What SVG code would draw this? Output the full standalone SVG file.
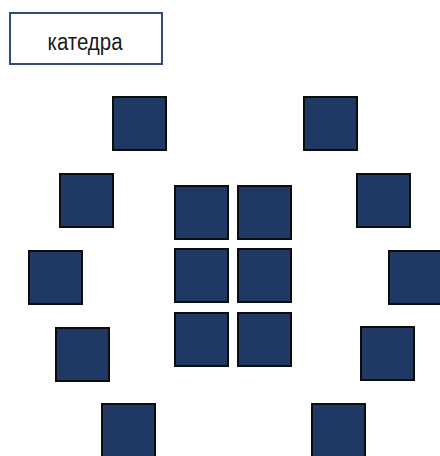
<svg xmlns="http://www.w3.org/2000/svg" width="440" height="456" viewBox="0 0 440 456">
<style>
.d{fill:#203864;stroke:#0d0d0d;stroke-width:2}
.k{fill:#fff;stroke:#2f4b7c;stroke-width:2}
.t{font-family:"Liberation Sans",Arial,sans-serif;font-size:23px;fill:#1a1a1a;text-anchor:middle}
</style>
<rect width="440" height="456" fill="#fff"/>
<g id="katedra"><rect class="k" x="10" y="13" width="152" height="51"/><text class="t" x="85" y="50" textLength="75" lengthAdjust="spacingAndGlyphs">катедра</text></g>
<g id="left">
<rect id="l1" class="d" x="113" y="97" width="53" height="53"/>
<rect id="l2" class="d" x="60" y="174" width="53" height="53"/>
<rect id="l3" class="d" x="29" y="251" width="53" height="53"/>
<rect id="l4" class="d" x="56" y="328" width="53" height="53"/>
<rect id="l5" class="d" x="102" y="404" width="53" height="53"/>
</g>
<g id="right">
<rect id="r1" class="d" x="304" y="97" width="53" height="53"/>
<rect id="r2" class="d" x="357" y="174" width="53" height="53"/>
<rect id="r3" class="d" x="389" y="251" width="53" height="53"/>
<rect id="r4" class="d" x="361" y="327" width="53" height="53"/>
<rect id="r5" class="d" x="312" y="404" width="53" height="53"/>
</g>
<g id="center">
<rect id="c1" class="d" x="175" y="186" width="53" height="53"/>
<rect id="c2" class="d" x="238" y="186" width="53" height="53"/>
<rect id="c3" class="d" x="175" y="249" width="53" height="53"/>
<rect id="c4" class="d" x="238" y="249" width="53" height="53"/>
<rect id="c5" class="d" x="175" y="313" width="53" height="53"/>
<rect id="c6" class="d" x="238" y="313" width="53" height="53"/>
</g>
<g id="connectors"/>
</svg>
